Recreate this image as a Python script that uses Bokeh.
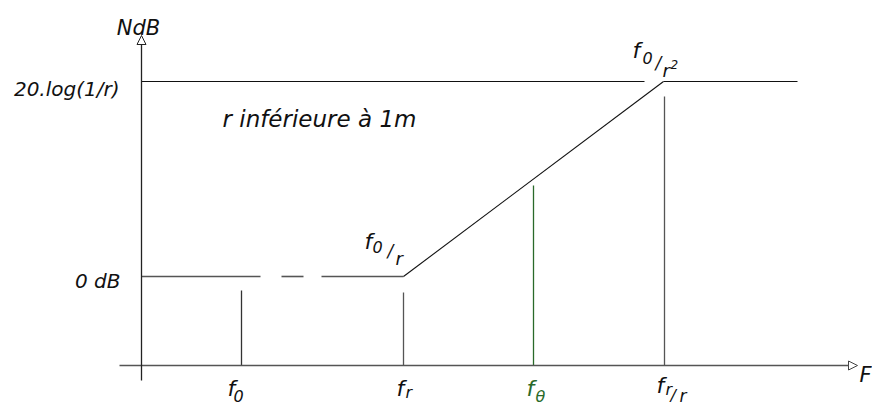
from bokeh.plotting import figure
from bokeh.models import Range1d, Arrow, NormalHead
from bokeh.core.properties import value
from bokeh.embed import file_html
from bokeh.resources import INLINE

# Drawing units: 1 unit = 1 px, frequency axis at y = 0, level axis at x = 0
FONT = value("DejaVu Sans")

# Characteristic frequencies along the F axis
freq_names = ["f0", "fr", "fe", "fr/r"]
freq_pos = [100, 262, 392, 523]
# Height reached by each drop line (they stop just short of the response)
drop_top = [75, 73, 180, 269]
drop_color = ["#333333", "#555555", "#2a6a2a", "#555555"]

# Levels of the response
level_0db = 89          # 0 dB
level_top = 284         # 20.log(1/r)

# Flat 0 dB part, broken into segments (start, end)
flat_x0 = [0, 140, 180]
flat_x1 = [119, 162, 262]

# Upper 20.log(1/r) line, interrupted at the f0/r² corner
top_x0 = [0, 522]
top_x1 = [503, 656]

# Rising slope between f0/r and f0/r²
slope_x = [262, 522]
slope_y = [level_0db, level_top]

# Axes extents
x_axis = [-22, 716]
y_axis = [-15, 330]

p = figure(width=872, height=405, x_range=Range1d(-141, 731), y_range=Range1d(-40, 365),
           output_backend="svg", toolbar_location=None,
           x_axis_location=None, y_axis_location=None, min_border=0)
p.grid.visible = False
p.outline_line_color = None
p.background_fill_color = "white"
p.border_fill_color = "white"

# Axes with hollow arrow heads
p.add_layout(Arrow(end=NormalHead(size=9, fill_color="white", line_color="#444444", line_width=1),
                   x_start=x_axis[0], y_start=0, x_end=x_axis[1], y_end=0,
                   line_color="#555555", line_width=1.6))
p.add_layout(Arrow(end=NormalHead(size=9, fill_color="white", line_color="#222222", line_width=1),
                   x_start=0, y_start=y_axis[0], x_end=0, y_end=y_axis[1],
                   line_color="#222222", line_width=1.3))

# Response
p.segment(x0=flat_x0, y0=[level_0db] * 3, x1=flat_x1, y1=[level_0db] * 3,
          line_color="#555555", line_width=1.6)
p.segment(x0=top_x0, y0=[level_top] * 2, x1=top_x1, y1=[level_top] * 2,
          line_color="#111111", line_width=1.1)
p.line(slope_x, slope_y, line_color="#111111", line_width=1.1)

# Drop lines at the characteristic frequencies
p.segment(x0=freq_pos, y0=[0] * 4, x1=freq_pos, y1=drop_top,
          line_color=drop_color, line_width=1.3)


def label(x, y, parts, color="#111111"):
    """Draw a composite label: parts = (text, dx px, baseline dy px, size px)."""
    for txt, dx, dy, size in parts:
        p.text(x=[x], y=[y], text=[txt], x_offset=dx, y_offset=dy,
               text_font=FONT, text_font_style="italic", text_font_size=f"{size}px",
               text_color=color, text_align="left", text_baseline="alphabetic")


# Frequency labels under the axis
label(freq_pos[0], 0, [("f", -14, 23, 22), ("0", -8, 30, 16)])
label(freq_pos[1], 0, [("f", -7, 23, 22), ("r", 2, 27, 16)])
label(freq_pos[2], 0, [("f", -7, 23, 22), ("θ", 2, 31, 16)], color="#2a6a2a")
label(freq_pos[3], 0, [("f", -8, 20, 22), ("r", 1, 24, 16), ("/", 6, 30, 16), ("r", 15, 30, 17)])

# Corner labels
label(slope_x[0], slope_y[0], [("f", -39, -35, 22), ("0", -31, -30, 16), ("/", -16, -26, 17), ("r", -8, -18, 18)])
label(slope_x[1], slope_y[1], [("f", -31, -31, 22), ("0", -21, -24, 16), ("/", -8, -19, 17),
                               ("r", -1, -11, 18), ("2", 7, -17, 12)])

# Level labels
p.text(x=[0], y=[level_top], text=["20.log(1/r)"], x_offset=-22, y_offset=7,
       text_font=FONT, text_font_style="italic", text_font_size="20px",
       text_color="#111111", text_align="right", text_baseline="alphabetic")
p.text(x=[0], y=[level_0db], text=["0 dB"], x_offset=-21, y_offset=4,
       text_font=FONT, text_font_style="italic", text_font_size="20px",
       text_color="#111111", text_align="right", text_baseline="alphabetic")

# Axis names
p.text(x=[0], y=[y_axis[1]], text=["NdB"], x_offset=-3, y_offset=-8,
       text_font=FONT, text_font_style="italic", text_font_size="21px",
       text_color="#111111", text_align="center", text_baseline="alphabetic")
p.text(x=[x_axis[1]], y=[0], text=["F"], x_offset=2, y_offset=9,
       text_font=FONT, text_font_style="italic", text_font_size="21px",
       text_color="#111111", text_align="left", text_baseline="alphabetic")

# Annotation
p.text(x=[81], y=[level_top], text=["r inférieure à 1m"], y_offset=37,
       text_font=FONT, text_font_style="italic", text_font_size="23px",
       text_color="#111111", text_align="left", text_baseline="alphabetic")

open("out.html", "w").write(file_html(p, INLINE))
